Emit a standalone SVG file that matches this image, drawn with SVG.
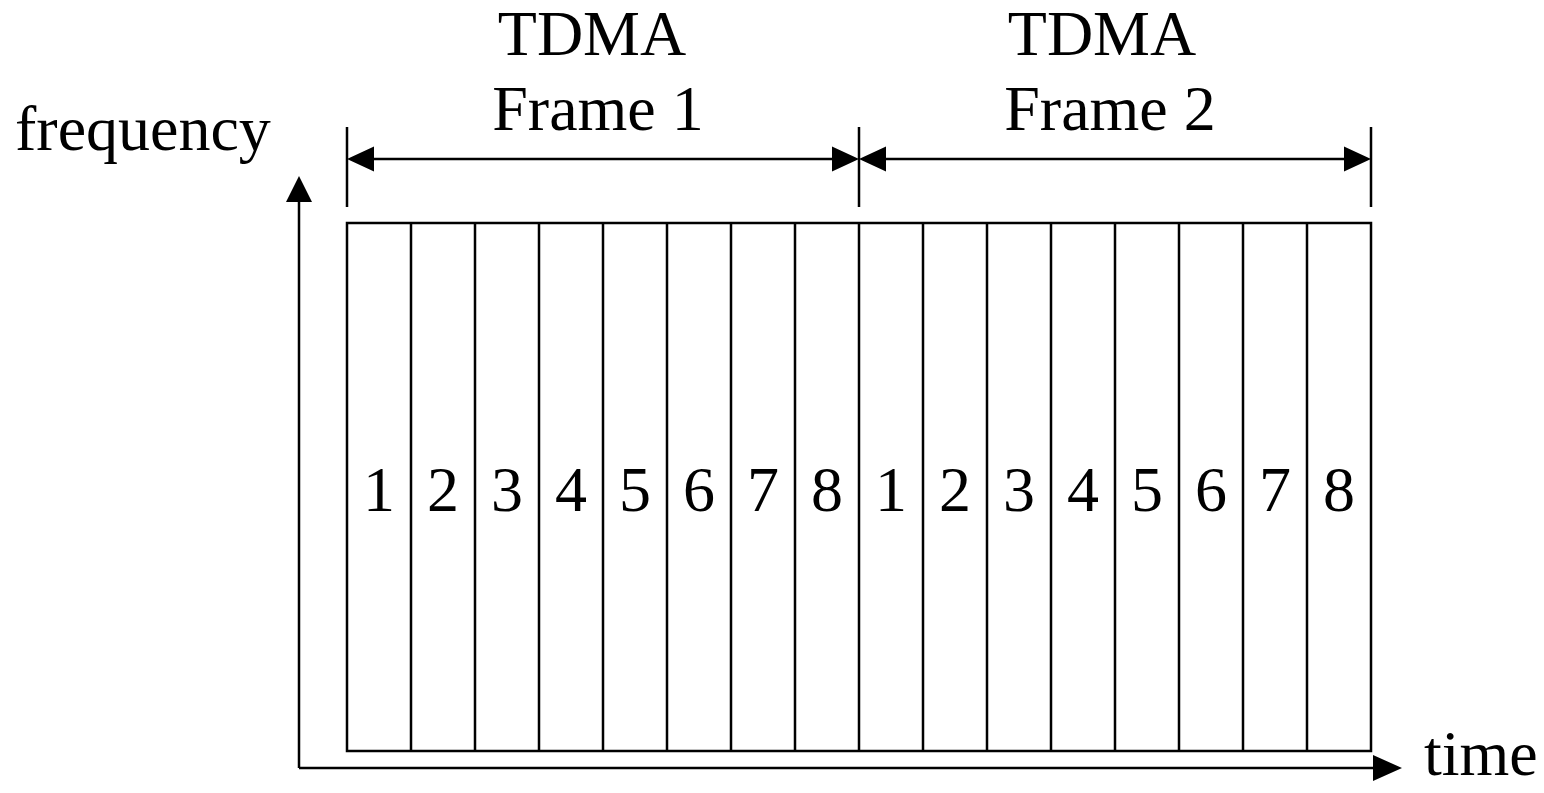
<svg xmlns="http://www.w3.org/2000/svg" width="1544" height="793" viewBox="0 0 1544 793">
<style>
.t{font-family:"Liberation Serif","Times New Roman",serif;font-size:64px;fill:#000}
.c{text-anchor:middle}
.l{stroke:#000;stroke-width:2.5;fill:none}
.h{fill:#000;stroke:none}
</style>
<rect width="1544" height="793" fill="#fff"/>
<g id="labels">
<text class="t c" x="592" y="55">TDMA</text>
<text class="t c" x="598" y="130">Frame 1</text>
<text class="t c" x="1102" y="55">TDMA</text>
<text class="t c" x="1110" y="130">Frame 2</text>
<text class="t" x="15" y="150">frequency</text>
<text class="t" x="1424" y="775">time</text>
</g>
<g id="slots">
<rect class="l" x="347" y="223" width="1024" height="528"/>
<path class="l" d="M411 223V751M475 223V751M539 223V751M603 223V751M667 223V751M731 223V751M795 223V751M859 223V751M923 223V751M987 223V751M1051 223V751M1115 223V751M1179 223V751M1243 223V751M1307 223V751"/>
<g class="t c">
<text x="379" y="511">1</text><text x="443" y="511">2</text><text x="507" y="511">3</text><text x="571" y="511">4</text>
<text x="635" y="511">5</text><text x="699" y="511">6</text><text x="763" y="511">7</text><text x="827" y="511">8</text>
<text x="891" y="511">1</text><text x="955" y="511">2</text><text x="1019" y="511">3</text><text x="1083" y="511">4</text>
<text x="1147" y="511">5</text><text x="1211" y="511">6</text><text x="1275" y="511">7</text><text x="1339" y="511">8</text>
</g>
</g>
<g id="connectors">
<path class="l" d="M347 127V207M859 127V207M1371 127V207"/>
<path class="l" d="M372 159H834M884 159H1346"/>
<path class="h" d="M347 159L374 146.5V171.5Z M859 159L832 146.5V171.5Z M859 159L886 146.5V171.5Z M1371 159L1344 146.5V171.5Z"/>
<path class="l" d="M299 768V200M299 768H1375"/>
<path class="h" d="M299 176L286 202H312Z M1402 768L1373 755V781Z"/>
</g>
</svg>
